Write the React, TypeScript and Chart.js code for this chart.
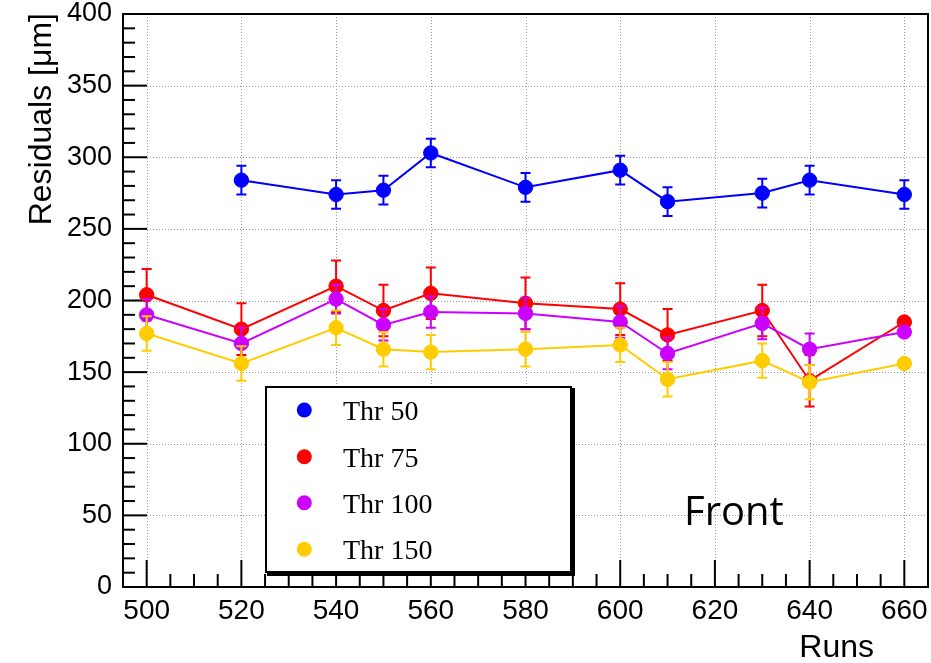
import { useEffect, useRef } from "react";
import { Chart, registerables } from "chart.js";

Chart.register(...registerables);

// ---- data ----
const RUNS_50 = [520, 540, 550, 560, 580, 600, 610, 630, 640, 660];
const THR_50 = [284, 274, 277, 303, 279, 291, 269, 275, 284, 274];
const ERR_50 = [10, 10, 10, 10, 10, 10, 10, 10, 10, 10];

const RUNS = [500, 520, 540, 550, 560, 580, 600, 610, 630, 640, 660];
const THR_75 = [204, 180, 210, 193, 205, 198, 194, 176, 193, 144, 185];
const ERR_75 = [18, 18, 18, 18, 18, 18, 18, 18, 18, 18, 0];
const THR_100 = [190, 170, 201, 183, 192, 191, 185, 163, 184, 166, 178];
const ERR_100 = [11, 11, 10, 11, 11, 11, 11, 11, 11, 11, 0];
const THR_150 = [177, 156, 181, 166, 164, 166, 169, 145, 158, 143, 156];
const ERR_150 = [12, 12, 12, 12, 12, 12, 12, 12, 12, 12, 0];

const SERIES_LABELS = ["Thr 50", "Thr 75", "Thr 100", "Thr 150"];
const SERIES_COLORS = ["#0000ff", "#ff0000", "#cc00ff", "#ffcc00"];

const X_TICKS = [500, 520, 540, 560, 580, 600, 620, 640, 660];
const Y_TICKS = [0, 50, 100, 150, 200, 250, 300, 350, 400];
const X_MIN = 495;
const X_MAX = 665;
const Y_MIN = 0;
const Y_MAX = 400;

const Y_TITLE = "Residuals [\u03bcm]";
const X_TITLE = "Runs";
const TAG = "Front";

const SANS = "'Liberation Sans', Arial, Helvetica, sans-serif";
const SERIF = "'Liberation Serif', 'Times New Roman', serif";

function pts(xs: number[], ys: number[]) {
  return xs.map((x, i) => ({ x, y: ys[i] }));
}

function zeroPad(s: any) {
  s.paddingTop = 0;
  s.paddingBottom = 0;
  s.paddingLeft = 0;
  s.paddingRight = 0;
}

const rootStyle = {
  id: "rootStyle",
  beforeDatasetsDraw(chart: any) {
    const { ctx, chartArea: a, scales } = chart;
    const x = scales.x;
    const y = scales.y;
    ctx.save();
    // dotted grid
    ctx.strokeStyle = "#9a9a9a";
    ctx.lineWidth = 1;
    ctx.setLineDash([1, 2]);
    for (const v of X_TICKS) {
      const px = Math.round(x.getPixelForValue(v)) + 0.5;
      ctx.beginPath();
      ctx.moveTo(px, a.top);
      ctx.lineTo(px, a.bottom);
      ctx.stroke();
    }
    for (const v of Y_TICKS) {
      if (v <= Y_MIN || v >= Y_MAX) continue;
      const py = Math.round(y.getPixelForValue(v)) + 0.5;
      ctx.beginPath();
      ctx.moveTo(a.left, py);
      ctx.lineTo(a.right, py);
      ctx.stroke();
    }
    ctx.setLineDash([]);
    // inner tick marks
    ctx.strokeStyle = "#000";
    ctx.lineWidth = 2;
    for (let v = X_MIN + 5; v < X_MAX; v += 5) {
      const major = v % 20 === 0;
      const px = x.getPixelForValue(v);
      ctx.beginPath();
      ctx.moveTo(px, a.bottom);
      ctx.lineTo(px, a.bottom - (major ? 27 : 13));
      ctx.stroke();
    }
    for (let v = Y_MIN + 10; v < Y_MAX; v += 10) {
      const major = v % 50 === 0;
      const py = y.getPixelForValue(v);
      ctx.beginPath();
      ctx.moveTo(a.left, py);
      ctx.lineTo(a.left + (major ? 24 : 12), py);
      ctx.stroke();
    }
    // frame
    ctx.strokeRect(a.left, a.top, a.right - a.left, a.bottom - a.top);
    ctx.restore();
  },
  beforeDatasetDraw(chart: any, args: any) {
    const ds: any = chart.data.datasets[args.index];
    const errs: number[] | undefined = ds.errors;
    if (!errs) return;
    const { ctx } = chart;
    const y = chart.scales.y;
    ctx.save();
    ctx.strokeStyle = ds.borderColor;
    ctx.lineWidth = 2;
    args.meta.data.forEach((el: any, i: number) => {
      const e = errs[i];
      if (!e) return;
      const v = ds.data[i].y;
      const top = y.getPixelForValue(v + e);
      const bot = y.getPixelForValue(v - e);
      const px = el.x;
      ctx.beginPath();
      ctx.moveTo(px, top);
      ctx.lineTo(px, bot);
      ctx.moveTo(px - 5, top);
      ctx.lineTo(px + 5, top);
      ctx.moveTo(px - 5, bot);
      ctx.lineTo(px + 5, bot);
      ctx.stroke();
    });
    ctx.restore();
  },
  afterDraw(chart: any) {
    const { ctx, chartArea: a } = chart;
    ctx.save();
    // axis titles
    ctx.fillStyle = "#000";
    ctx.font = `32px ${SANS}`;
    ctx.textBaseline = "alphabetic";
    ctx.save();
    ctx.translate(51, a.top - 1);
    ctx.rotate(-Math.PI / 2);
    ctx.textAlign = "right";
    ctx.fillText(Y_TITLE, 0, 0);
    ctx.restore();
    ctx.textAlign = "right";
    ctx.fillText(X_TITLE, 874, 657);

    // "Front" label
    ctx.textAlign = "left";
    ctx.font = `40px 'Open Sans', 'Noto Sans', sans-serif`;
    ctx.fillText(TAG, 684, 525);

    // legend box
    const bx = 265, by = 386, bw = 307, bh = 187;
    ctx.fillStyle = "#000";
    ctx.fillRect(bx + 2, by + 2, bw + 1, bh + 1);
    ctx.fillStyle = "#fff";
    ctx.fillRect(bx, by, bw, bh);
    ctx.strokeStyle = "#000";
    ctx.lineWidth = 2;
    ctx.strokeRect(bx + 1, by + 1, bw - 2, bh - 2);
    const rows = [410, 456.7, 502.7, 549.3];
    ctx.font = `28px ${SERIF}`;
    chart.data.datasets.forEach((ds: any, i: number) => {
      const cy = rows[i];
      ctx.fillStyle = ds.backgroundColor;
      ctx.beginPath();
      ctx.arc(304.3, cy, 7.5, 0, Math.PI * 2);
      ctx.fill();
      ctx.fillStyle = "#000";
      ctx.fillText(ds.label, 343, cy + 10);
    });
    ctx.restore();
  },
};

export default function App() {
  const ref = useRef<HTMLCanvasElement | null>(null);

  useEffect(() => {
    if (!ref.current) return;
    const mk = (i: number, xs: number[], ys: number[], errs: number[], order: number) => ({
      label: SERIES_LABELS[i],
      data: pts(xs, ys),
      errors: errs,
      borderColor: SERIES_COLORS[i],
      backgroundColor: SERIES_COLORS[i],
      pointBackgroundColor: SERIES_COLORS[i],
      pointBorderColor: SERIES_COLORS[i],
      pointBorderWidth: 1,
      pointRadius: 7.2,
      pointHoverRadius: 7.2,
      borderWidth: 2,
      showLine: true,
      tension: 0,
      order,
    });
    const chart = new Chart(ref.current, {
      type: "scatter",
      data: {
        datasets: [
          mk(0, RUNS_50, THR_50, ERR_50, 3),
          mk(1, RUNS, THR_75, ERR_75, 2),
          mk(2, RUNS, THR_100, ERR_100, 1),
          mk(3, RUNS, THR_150, ERR_150, 0),
        ] as any,
      },
      options: {
        animation: false,
        responsive: false,
        devicePixelRatio: 1,
        events: [],
        layout: { autoPadding: false, padding: { top: 14, right: 3, left: 0, bottom: 0 } },
        plugins: { legend: { display: false }, tooltip: { enabled: false } },
        scales: {
          x: {
            type: "linear",
            min: X_MIN,
            max: X_MAX,
            grid: { display: false, drawTicks: false },
            border: { display: false },
            afterBuildTicks: (s: any) => {
              s.ticks = X_TICKS.map((v) => ({ value: v }));
            },
            afterFit: (s: any) => {
              s.height = 76;
              zeroPad(s);
            },
            ticks: {
              color: "#000",
              font: { family: SANS, size: 28, lineHeight: 1 },
              padding: 10,
              maxRotation: 0,
              autoSkip: false,
              callback: (v: any) => String(v),
            },
          },
          y: {
            type: "linear",
            min: Y_MIN,
            max: Y_MAX,
            grid: { display: false, drawTicks: false },
            border: { display: false },
            afterBuildTicks: (s: any) => {
              s.ticks = Y_TICKS.map((v) => ({ value: v }));
            },
            afterFit: (s: any) => {
              s.width = 123;
              zeroPad(s);
            },
            ticks: {
              color: "#000",
              font: { family: SANS, size: 27, lineHeight: 1 },
              padding: 11,
              autoSkip: false,
              callback: (v: any) => String(v),
            },
          },
        },
      } as any,
      plugins: [rootStyle as any],
    });
    return () => chart.destroy();
  }, []);

  return (
    <div style={{ position: "absolute", left: 0, top: 0, width: 931, height: 663, background: "#fff" }}>
      <canvas ref={ref} width={931} height={663} style={{ display: "block", width: 931, height: 663 }} />
    </div>
  );
}
